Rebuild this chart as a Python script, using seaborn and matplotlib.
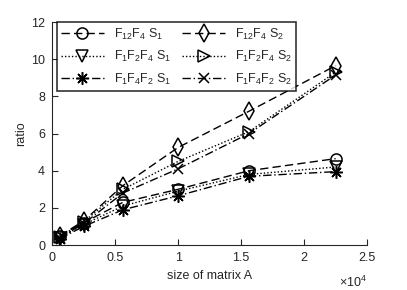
import matplotlib
matplotlib.use('Agg')
import matplotlib.pyplot as plt
import seaborn as sns
import pandas as pd
from matplotlib.ticker import FuncFormatter

# matrix sizes (25^2 ... 150^2)
sizes = [625, 2500, 5625, 10000, 15625, 22500]

f12f4_s1 = [0.50, 1.20, 2.30, 3.00, 4.00, 4.65]
f1f2f4_s1 = [0.40, 1.10, 2.10, 2.90, 3.80, 4.20]
f1f4f2_s1 = [0.35, 1.00, 1.90, 2.65, 3.70, 3.95]
f12f4_s2 = [0.50, 1.30, 3.20, 5.25, 7.20, 9.65]
f1f2f4_s2 = [0.45, 1.25, 3.00, 4.50, 6.10, 9.30]
f1f4f2_s2 = [0.40, 1.15, 2.80, 4.10, 6.00, 9.15]

labels = [r'F$_{12}$F$_4$ S$_1$', r'F$_1$F$_2$F$_4$ S$_1$', r'F$_1$F$_4$F$_2$ S$_1$',
          r'F$_{12}$F$_4$ S$_2$', r'F$_1$F$_2$F$_4$ S$_2$', r'F$_1$F$_4$F$_2$ S$_2$']
series = [f12f4_s1, f1f2f4_s1, f1f4f2_s1, f12f4_s2, f1f2f4_s2, f1f4f2_s2]
markers = ['o', 'v', (8, 2, 0), 'd', '>', 'x']
sizes_mk = [8, 8, 9, 9, 8, 7]
styles = [(0, (6, 3)), (0, (1, 1.5)), (0, (6, 2, 1, 2)),
          (0, (6, 3)), (0, (1, 1.5)), (0, (6, 2, 1, 2))]

sns.set_style('ticks')
plt.rcParams['font.family'] = ['Liberation Sans', 'DejaVu Sans']
plt.rcParams['mathtext.default'] = 'regular'

fig = plt.figure(figsize=(4.07, 2.90), dpi=100)
ax = fig.add_axes([0.128, 0.155, 0.774, 0.769])

for lab, vals, mk, ms, ls in zip(labels, series, markers, sizes_mk, styles):
    df = pd.DataFrame({'size': sizes, 'ratio': vals})
    sns.lineplot(data=df, x='size', y='ratio', ax=ax, color='black', linestyle=ls,
                 marker=mk, markersize=ms, mfc='none', mec='black',
                 mew=1.1, lw=1.0, label=lab)

ax.set_xlim(0, 25000)
ax.set_ylim(0, 12)
ax.set_xticks([0, 5000, 10000, 15000, 20000, 25000])
ax.set_yticks(range(0, 13, 2))
ax.xaxis.set_major_formatter(FuncFormatter(lambda v, p: f'{v / 1e4:g}'))
ax.tick_params(direction='in', labelsize=9, colors='#262626', length=4, width=0.8, pad=5)
for s in ['left', 'bottom']:
    ax.spines[s].set_color('#262626')
    ax.spines[s].set_linewidth(0.8)
ax.spines['top'].set_visible(False)
ax.spines['right'].set_visible(False)

ax.set_xlabel('size of matrix A', fontsize=9, color='#262626', labelpad=4)
ax.set_ylabel('ratio', fontsize=9, color='#262626', labelpad=3)
ax.text(1.0, -0.166, r'$\times10^4$', transform=ax.transAxes, fontsize=9,
        color='#262626', ha='right', va='center')

leg = ax.legend(ncol=2, loc='upper left', bbox_to_anchor=(0.015, 1.0), fontsize=9,
                handlelength=3.4, columnspacing=0.9, frameon=True, fancybox=False,
                borderpad=0.35, labelspacing=0.6, handletextpad=0.8,
                borderaxespad=0.0)
leg.get_frame().set_edgecolor('black')
leg.get_frame().set_linewidth(1.2)

fig.savefig('out.png', dpi=100)
